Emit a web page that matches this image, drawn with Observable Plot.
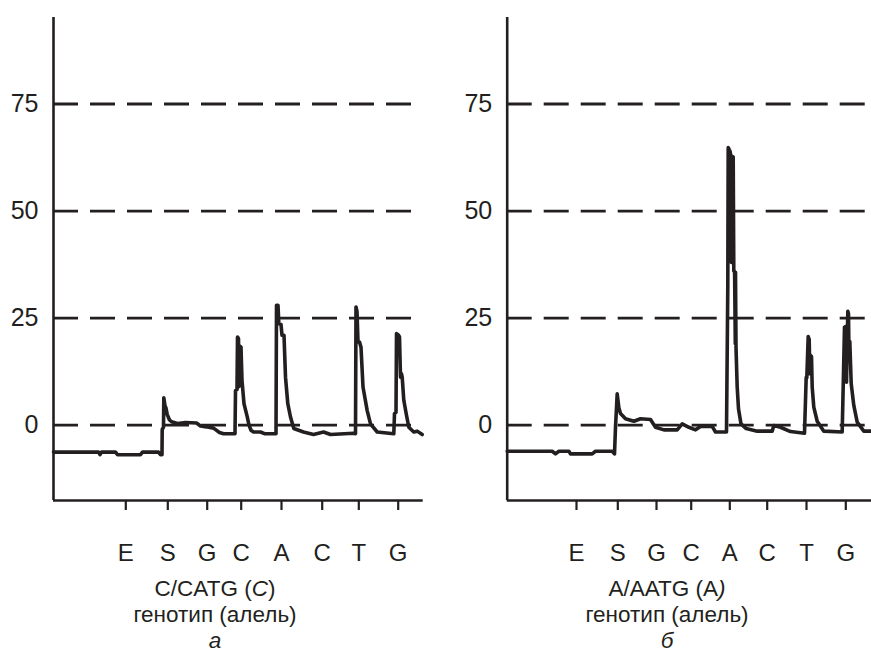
<!DOCTYPE html>
<html><head><meta charset="utf-8">
<script src="https://cdn.jsdelivr.net/npm/d3@7"></script>
<script src="https://cdn.jsdelivr.net/npm/@observablehq/plot@0.6"></script>
<style>
body{margin:0;background:#fff;}
#wrap{position:relative;width:871px;height:653px;font-family:"Liberation Sans",Arial,Helvetica,sans-serif;color:#231f20;overflow:hidden;}
#panels{display:flex;}
.cap{position:absolute;font-size:22.5px;line-height:22.5px;white-space:nowrap;transform:translateX(-50%);}
</style></head><body>
<div id="wrap"><div id="panels"></div></div>
<script>
const ink = "#231f20";
const yTicks = [0, 25, 50, 75];
const yDomain = [-17.6, 95.2];
const dispensationLabels = ["E", "S", "G", "C", "A", "C", "T", "G"];
const ticksA = [72.3, 114.3, 153.7, 187.7, 228, 268.7, 305.3, 344.7];
const ticksB = [69.3, 110.6, 149.3, 184, 222.6, 260, 299.3, 338.6];

// pyrogram signal, panel a: [time, signal]
const signalA = [
  [0,-6.3],[45,-6.3],[46.5,-6.9],[48,-6.3],[62,-6.3],[64,-6.9],[87,-6.9],[89,-6.3],
  [105,-6.3],[107,-6.9],[108.5,-6.9],[108.7,-1],[110,-0.5],[110.3,6.4],[111.5,4.5],
  [112.5,4],[113.7,2.5],[116,1.2],[118,0.8],[124,0.4],[132,0.6],[143,0.5],[147,-0.2],
  [153,-0.4],[160,-0.7],[166,-1.7],[170,-2],[181.5,-2],[182,8.1],[183.5,8.3],[184,20.6],
  [185,20.2],[185.5,9],[186,18.5],[187.5,18.2],[188.5,10.4],[190.5,5],[193.7,2],[195.5,0],
  [197.5,-1.2],[200,-1.6],[207,-1.6],[211,-2],[222.5,-2],[223,28],[224.5,28],[225.3,23.7],
  [227.5,23.5],[228.5,21],[230.5,21],[232,11.2],[234.3,5],[237,1.9],[240.3,-0.8],[250,-1.6],
  [260,-2.2],[270,-1.6],[277,-2.2],[300,-1.9],[302,-2],[302.5,27.6],[303.5,26.5],[304.5,19.4],
  [306,19.4],[307.5,18.2],[309.5,8.9],[313.7,3.4],[317,0.3],[323.7,-1.6],[340.3,-2],[341,2.7],
  [342.5,3],[343,21.4],[345,21],[346,20.6],[347,11.2],[348,12],[348.7,11.2],[350.3,5.8],
  [353,2.3],[355.3,-0.5],[360.3,-1.6],[363.7,-1.4],[368.7,-2.2]
];

// pyrogram signal, panel b: [time, signal]
const signalB = [
  [0,-6.1],[45,-6.1],[48.3,-6.7],[51.7,-6.1],[61.7,-6.1],[63.3,-6.7],[85,-6.7],[88.3,-6.1],
  [105,-6.1],[107.3,-6.7],[108.3,-0.5],[110,7.3],[111.7,4],[113.3,2.7],[118.3,1.5],[126.7,0.9],
  [133.3,1.5],[143.3,1.3],[148.3,-0.5],[156.7,-1.1],[170,-1.1],[175,0.3],[181.7,-0.5],
  [188.3,-1.1],[193.3,-0.3],[205,-0.3],[208.3,-1.6],[219.3,-1.6],[220.6,32.6],[221,64.8],
  [221.8,64.5],[222.3,40],[222.8,64],[223.6,63],[224.2,38],[224.8,62.8],[226,62.6],
  [226.6,36],[227.4,35.9],[228.1,19],[228.3,35.7],[228.8,18.2],
  [230,8.9],[231.3,3.8],[233.8,0.3],[239,-0.8],[250,-1.4],[265,-1.4],[266.6,-0.1],[273.3,-0.5],
  [283.3,-1.5],[297.3,-1.9],[299,11.2],[299.6,11],[301,20.7],[302,20],[302.6,12],[303.3,16.3],
  [304.3,16],[305,8.9],[306.6,4.2],[310,0.9],[316.6,-1.4],[335,-1.6],[337.3,22.9],[338.3,23],
  [339.3,10],[340.6,26.6],[341.3,26],[341.6,19.8],[342.6,19.5],[344,9.7],[346.6,4.6],
  [350,0.7],[356.6,-1.4],[364.3,-1.4]
];

function panel({signal, ticks, width, marginLeft, marginRight, xMax}) {
  return Plot.plot({
    width, height: 555, marginTop: 17, marginBottom: 55, marginLeft, marginRight,
    x: {domain: [0, xMax], axis: null},
    y: {domain: yDomain, axis: null},
    style: {fontFamily: '"Liberation Sans", Arial, Helvetica, sans-serif', color: ink, background: "transparent", overflow: "visible"},
    marks: [
      Plot.ruleY(yTicks, {stroke: ink, strokeWidth: 2.8, strokeDasharray: "25 12"}),
      Plot.axisY(yTicks, {tickSize: 0, tickPadding: 15, fontSize: 25, color: ink}),
      Plot.axisX(ticks, {tickSize: 10, tickPadding: 33, fontSize: 24, color: ink, strokeWidth: 2.2,
        tickFormat: d => dispensationLabels[ticks.indexOf(d)]}),
      Plot.ruleX([0], {stroke: ink, strokeWidth: 2.6}),
      Plot.ruleY([yDomain[0]], {stroke: ink, strokeWidth: 2.6}),
      Plot.line(signal, {x: d => d[0], y: d => d[1], stroke: ink, strokeWidth: 3.6, strokeLinejoin: "round"})
    ]
  });
}

const panels = document.getElementById("panels");
panels.append(panel({signal: signalA, ticks: ticksA, width: 435, marginLeft: 53, marginRight: 12.3, xMax: 369.7}));
panels.append(panel({signal: signalB, ticks: ticksB, width: 436, marginLeft: 71.7, marginRight: 0, xMax: 364.3}));

const captions = [
  {x: 215, top: 578, html: "C/CATG (<i>C</i>)"},
  {x: 215, top: 604, html: "генотип (алель)"},
  {x: 215, top: 630, html: "<i>а</i>"},
  {x: 667, top: 578, html: "A/AATG (A<i>)</i>"},
  {x: 667, top: 604, html: "генотип (алель)"},
  {x: 667, top: 630, html: "<i>б</i>"}
];
const wrap = document.getElementById("wrap");
for (const c of captions) {
  const d = document.createElement("div");
  d.className = "cap";
  d.style.left = c.x + "px";
  d.style.top = c.top + "px";
  d.innerHTML = c.html;
  wrap.append(d);
}
</script>
</body></html>
